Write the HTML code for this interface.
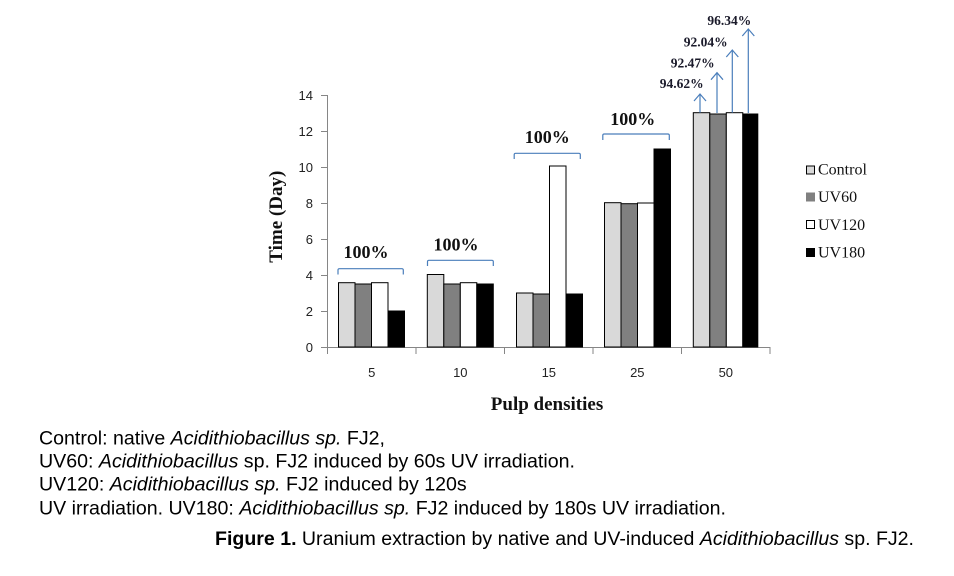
<!DOCTYPE html>
<html>
<head>
<meta charset="utf-8">
<style>
  html,body{margin:0;padding:0;background:#fff;}
  svg{display:block;}
</style>
</head>
<body>
<svg width="954" height="576" viewBox="0 0 954 576" xmlns="http://www.w3.org/2000/svg">
  <rect width="954" height="576" fill="#fff"/>

  <!-- Y axis -->
  <g stroke="#868686" stroke-width="1" fill="none">
    <line x1="327.5" y1="95" x2="327.5" y2="347.5"/>
    <line x1="321" y1="95.5" x2="327.5" y2="95.5"/>
    <line x1="321" y1="131.5" x2="327.5" y2="131.5"/>
    <line x1="321" y1="167.5" x2="327.5" y2="167.5"/>
    <line x1="321" y1="203.5" x2="327.5" y2="203.5"/>
    <line x1="321" y1="239.5" x2="327.5" y2="239.5"/>
    <line x1="321" y1="275.5" x2="327.5" y2="275.5"/>
    <line x1="321" y1="311.5" x2="327.5" y2="311.5"/>
    <line x1="321" y1="347.5" x2="327.5" y2="347.5"/>
    <!-- X axis -->
    <line x1="327" y1="347.5" x2="770.5" y2="347.5"/>
    <line x1="327.5" y1="347.5" x2="327.5" y2="354"/>
    <line x1="416" y1="347.5" x2="416" y2="354"/>
    <line x1="504.5" y1="347.5" x2="504.5" y2="354"/>
    <line x1="593" y1="347.5" x2="593" y2="354"/>
    <line x1="681.5" y1="347.5" x2="681.5" y2="354"/>
    <line x1="770" y1="347.5" x2="770" y2="354"/>
  </g>

  <!-- Y tick labels -->
  <g font-family="Liberation Sans, Arial, sans-serif" font-size="13" fill="#222" text-anchor="end">
    <text x="313" y="100">14</text>
    <text x="313" y="136">12</text>
    <text x="313" y="172">10</text>
    <text x="313" y="208">8</text>
    <text x="313" y="244">6</text>
    <text x="313" y="280">4</text>
    <text x="313" y="316">2</text>
    <text x="313" y="352">0</text>
  </g>

  <!-- X tick labels -->
  <g font-family="Liberation Sans, Arial, sans-serif" font-size="13" fill="#222" text-anchor="middle">
    <text x="371.7" y="377">5</text>
    <text x="460.3" y="377">10</text>
    <text x="548.8" y="377">15</text>
    <text x="637.3" y="377">25</text>
    <text x="725.8" y="377">50</text>
  </g>

  <!-- Bars -->
  <g stroke="#000" stroke-width="1">
    <!-- 5 -->
    <rect x="338.5" y="282.7" width="16.5" height="64.3" fill="#d9d9d9"/>
    <rect x="355" y="284" width="16.5" height="63" fill="#808080"/>
    <rect x="371.5" y="282.7" width="16.5" height="64.3" fill="#fff"/>
    <rect x="388" y="311" width="16.5" height="36" fill="#000"/>
    <!-- 10 -->
    <rect x="427.3" y="274.5" width="16.5" height="72.5" fill="#d9d9d9"/>
    <rect x="443.8" y="284" width="16.5" height="63" fill="#808080"/>
    <rect x="460.3" y="282.7" width="16.5" height="64.3" fill="#fff"/>
    <rect x="476.8" y="284" width="16.5" height="63" fill="#000"/>
    <!-- 15 -->
    <rect x="516.5" y="293" width="16.5" height="54" fill="#d9d9d9"/>
    <rect x="533" y="294" width="16.5" height="53" fill="#808080"/>
    <rect x="549.5" y="166" width="16.5" height="181" fill="#fff"/>
    <rect x="566" y="294" width="16.5" height="53" fill="#000"/>
    <!-- 25 -->
    <rect x="604.5" y="202.7" width="16.5" height="144.3" fill="#d9d9d9"/>
    <rect x="621" y="203.7" width="16.5" height="143.3" fill="#808080"/>
    <rect x="637.5" y="203" width="16.5" height="144" fill="#fff"/>
    <rect x="654" y="149" width="16.5" height="198" fill="#000"/>
    <!-- 50 -->
    <rect x="693.3" y="112.7" width="16.5" height="234.3" fill="#d9d9d9"/>
    <rect x="709.8" y="114" width="16.5" height="233" fill="#808080"/>
    <rect x="726.3" y="112.7" width="16.5" height="234.3" fill="#fff"/>
    <rect x="742.8" y="114" width="15" height="233" fill="#000"/>
  </g>

  <!-- Brackets -->
  <g stroke="#4a7ebb" stroke-width="1.2" fill="none">
    <path d="M338 274.5 V270 Q338 268.7 339.5 268.7 H401.8 Q403.3 268.7 403.3 270 V274.5"/>
    <path d="M427.5 266 V261.6 Q427.5 260.3 429 260.3 H491.8 Q493.3 260.3 493.3 261.6 V266"/>
    <path d="M514.2 159 V154.6 Q514.2 153.3 515.7 153.3 H578.8 Q580.3 153.3 580.3 154.6 V159"/>
    <path d="M602.8 140 V135.3 Q602.8 134 604.3 134 H667.8 Q669.3 134 669.3 135.3 V140"/>
  </g>

  <!-- 100% labels -->
  <g font-family="Liberation Serif, Times New Roman, serif" font-size="18" font-weight="bold" fill="#111" text-anchor="middle">
    <text x="366" y="258">100%</text>
    <text x="456" y="250.5">100%</text>
    <text x="547.3" y="143">100%</text>
    <text x="632.7" y="125">100%</text>
  </g>

  <!-- Arrows -->
  <g stroke="#4a7ebb" stroke-width="1.2" fill="none">
    <line x1="700" y1="112.7" x2="700" y2="94"/>
    <path d="M694 101 L700 94 L706 101"/>
    <line x1="717" y1="113" x2="717" y2="72.7"/>
    <path d="M711 79.7 L717 72.7 L723 79.7"/>
    <line x1="732.3" y1="112.7" x2="732.3" y2="50"/>
    <path d="M726.3 57 L732.3 50 L738.3 57"/>
    <line x1="748.3" y1="113" x2="748.3" y2="29"/>
    <path d="M742.3 36 L748.3 29 L754.3 36"/>
  </g>

  <!-- Percent labels -->
  <g font-family="Liberation Serif, Times New Roman, serif" font-size="13.5" font-weight="bold" fill="#1a1a2a" text-anchor="middle">
    <text x="681.7" y="88">94.62%</text>
    <text x="692.7" y="67.7">92.47%</text>
    <text x="705.7" y="46.7">92.04%</text>
    <text x="729.3" y="25">96.34%</text>
  </g>

  <!-- Legend -->
  <g stroke="#000" stroke-width="1">
    <rect x="806.5" y="166" width="8" height="8" fill="#d9d9d9"/>
    <rect x="806.5" y="193" width="8" height="8" fill="#808080" stroke="#808080"/>
    <rect x="806.5" y="220.5" width="8" height="8" fill="#fff"/>
    <rect x="806.5" y="248.5" width="8" height="8" fill="#000"/>
  </g>
  <g font-family="Liberation Serif, Times New Roman, serif" font-size="16" fill="#111">
    <text x="818" y="174.5">Control</text>
    <text x="818" y="202">UV60</text>
    <text x="818" y="230">UV120</text>
    <text x="818" y="257.5">UV180</text>
  </g>

  <!-- Axis titles -->
  <text x="547" y="410" font-family="Liberation Serif, Times New Roman, serif" font-size="19" font-weight="bold" fill="#111" text-anchor="middle">Pulp densities</text>
  <text transform="translate(282,216.7) rotate(-90)" x="0" y="0" font-family="Liberation Serif, Times New Roman, serif" font-size="19" font-weight="bold" fill="#111" text-anchor="middle">Time (Day)</text>

  <!-- Caption -->
  <g font-family="Liberation Sans, Arial, sans-serif" font-size="19" fill="#000">
    <text x="39" y="444.3" textLength="346" lengthAdjust="spacingAndGlyphs">Control: native <tspan font-style="italic">Acidithiobacillus sp.</tspan> FJ2,</text>
    <text x="39" y="467.5" textLength="536" lengthAdjust="spacingAndGlyphs">UV60: <tspan font-style="italic">Acidithiobacillus</tspan> sp. FJ2 induced by 60s UV irradiation.</text>
    <text x="39" y="490.7" textLength="427.7" lengthAdjust="spacingAndGlyphs">UV120: <tspan font-style="italic">Acidithiobacillus sp.</tspan> FJ2 induced by 120s</text>
    <text x="39" y="514.5" textLength="687" lengthAdjust="spacingAndGlyphs">UV irradiation. UV180: <tspan font-style="italic">Acidithiobacillus sp.</tspan> FJ2 induced by 180s UV irradiation.</text>
    <text x="215" y="545" textLength="699" lengthAdjust="spacingAndGlyphs"><tspan font-weight="bold">Figure 1.</tspan> Uranium extraction by native and UV-induced <tspan font-style="italic">Acidithiobacillus</tspan> sp. FJ2.</text>
  </g>
</svg>
</body>
</html>
